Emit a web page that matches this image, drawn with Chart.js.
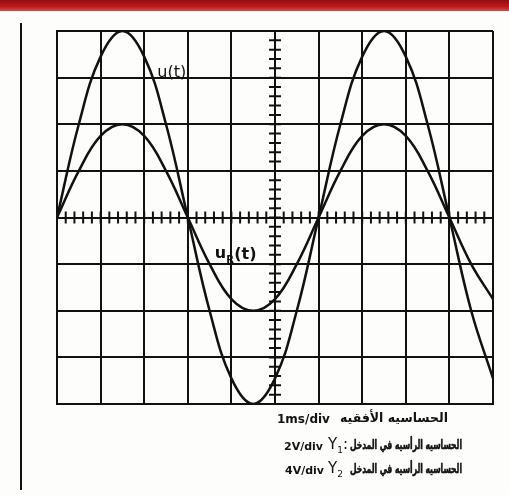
<!DOCTYPE html>
<html>
<head>
<meta charset="utf-8">
<script src="https://cdn.jsdelivr.net/npm/chart.js@4.4.1/dist/chart.umd.min.js"></script>
<style>
  html, body { margin:0; padding:0; background:#fff; }
  #wrap { position:relative; width:509px; height:495px; overflow:hidden; background:#fdfdfb; }
  #band { position:absolute; left:0; top:0; width:509px; height:11px;
          background:linear-gradient(#8e0f12, #c0191c 60%, #d8484a); }
  #frame { position:absolute; left:20px; top:23px; width:2px; height:467px; background:#111; }
  canvas { position:absolute; left:0; top:0; }
  .t { position:absolute; font:bold 12px "DejaVu Sans", sans-serif; color:#111; white-space:nowrap; line-height:16px; }
  .v { font-size:11px; }
  .y { font-size:15px; font-weight:normal; }
  .y sub { font-size:9px; }
  .ar { direction:rtl; display:inline-block; transform-origin:left center; font-size:13px; }
  .ar.s { font-size:12.5px; -webkit-text-stroke:0.6px #111; }
</style>
</head>
<body>
<div id="wrap">
  <div id="band"></div>
  <div id="frame"></div>
  <canvas id="scope" width="509" height="495"></canvas>
  <div class="t" style="left:277px; top:411px;">1ms/div</div>
  <div class="t ar" data-w="108" style="left:340px; top:410px;">الحساسيه الأفقيه</div>
  <div class="t v" style="left:284px; top:439px;">2V/div</div>
  <div class="t y" style="left:328px; top:436px;">Y<sub>1</sub>:</div>
  <div class="t ar s" data-w="112" style="left:350px; top:437px;">الحساسيه الرأسيه في المدخل</div>
  <div class="t v" style="left:285px; top:463px;">4V/div</div>
  <div class="t y" style="left:328px; top:460px;">Y<sub>2</sub></div>
  <div class="t ar s" data-w="112" style="left:350px; top:461px;">الحساسيه الرأسيه في المدخل</div>
</div>
<script>
// time axis in divisions (1 ms/div), values in screen divisions
const tDiv = [0,0.5,1,1.5,2,2.5,3,3.5,4,4.5,5,5.5,6,6.5,7,7.5,8,8.5,9,9.5,10];
const uVals = [0,2.0,3.45,4.0,3.45,2.0,0,-2.0,-3.45,-4.0,-3.45,-2.0,0,2.0,3.45,4.0,3.45,2.0,0,-2.0,-3.45];
const uRVals = [0,1.0,1.75,2.0,1.75,1.0,0,-1.0,-1.75,-2.0,-1.75,-1.0,0,1.0,1.75,2.0,1.75,1.0,0,-1.0,-1.75];
const traceLabels = ['u(t)', 'u'];

const ink = '#111';

// squeeze the arabic captions to the width they take in the photo
document.querySelectorAll('.ar').forEach(el => {
  const w = el.getBoundingClientRect().width;
  el.style.transform = 'scaleX(' + (+el.dataset.w / w) + ')';
});

const centerTicks = {
  id: 'centerTicks',
  afterDatasetsDraw(chart) {
    const { ctx, scales: { x, y } } = chart;
    const cx = x.getPixelForValue(5), cy = y.getPixelForValue(0);
    ctx.save();
    ctx.strokeStyle = ink; ctx.lineWidth = 2;
    ctx.beginPath();
    for (let k = 0; k <= 50; k++) {
      const px = x.getPixelForValue(k * 0.2);
      ctx.moveTo(px, cy - 6); ctx.lineTo(px, cy + 6);
    }
    for (let k = 0; k <= 40; k++) {
      const py = y.getPixelForValue(-4 + k * 0.2);
      ctx.moveTo(cx - 6, py); ctx.lineTo(cx + 6, py);
    }
    ctx.stroke();

    // trace labels
    ctx.fillStyle = ink;
    ctx.textBaseline = 'middle'; ctx.textAlign = 'left';
    ctx.font = '16px "DejaVu Sans"';
    ctx.fillText(traceLabels[0], x.getPixelForValue(2.3), y.getPixelForValue(3.1));
    const lx = x.getPixelForValue(3.62), ly = y.getPixelForValue(-0.8);
    ctx.font = 'bold 16px "DejaVu Sans"';
    ctx.fillText(traceLabels[1], lx, ly - 1);
    const w = ctx.measureText(traceLabels[1]).width;
    ctx.font = 'bold 10px "DejaVu Sans"';
    ctx.fillText('R', lx + w, ly + 6);
    ctx.font = 'bold 16px "DejaVu Sans"';
    ctx.fillText('(t)', lx + w + 8, ly);
    ctx.restore();
  }
};

new Chart(document.getElementById('scope'), {
  type: 'line',
  data: {
    datasets: [
      { data: tDiv.map((t, i) => ({ x: t, y: uVals[i] })), borderColor: ink, borderWidth: 2.5, tension: 0.4, pointRadius: 0, fill: false },
      { data: tDiv.map((t, i) => ({ x: t, y: uRVals[i] })), borderColor: ink, borderWidth: 2.5, tension: 0.4, pointRadius: 0, fill: false }
    ]
  },
  options: {
    responsive: false, animation: false,
    layout: { padding: { left: 57, right: 16, top: 31, bottom: 91 } },
    plugins: { legend: { display: false }, tooltip: { enabled: false } },
    scales: {
      x: { type: 'linear', min: 0, max: 10,
           ticks: { display: false, stepSize: 1 },
           grid: { color: ink, lineWidth: 2, drawTicks: false },
           border: { color: ink, width: 2 } },
      y: { type: 'linear', min: -4, max: 4,
           ticks: { display: false, stepSize: 1 },
           grid: { color: ink, lineWidth: 2, drawTicks: false },
           border: { color: ink, width: 2 } }
    }
  },
  plugins: [centerTicks]
});
</script>
</body>
</html>
